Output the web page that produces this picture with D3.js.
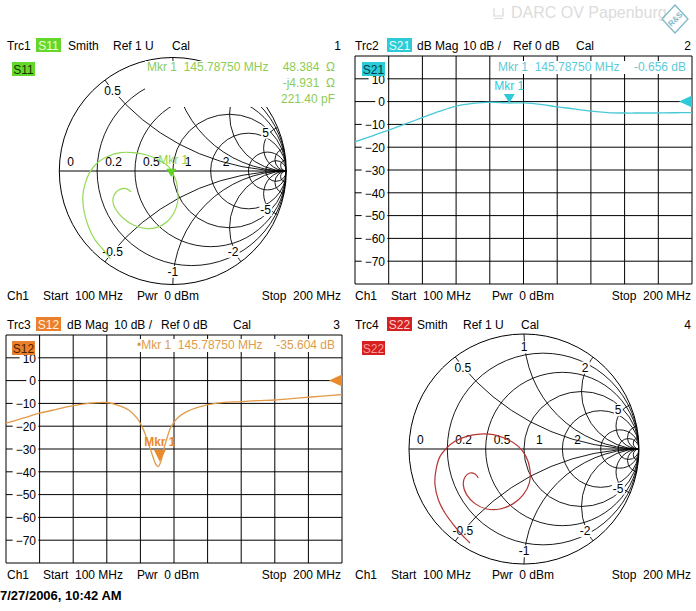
<!DOCTYPE html>
<html>
<head>
<meta charset="utf-8">
<script src="https://cdn.jsdelivr.net/npm/d3@7"></script>
<style>
  body { margin: 0; background: #fff; }
  svg { display: block; font-family: "Liberation Sans", Arial, sans-serif; }
  text { white-space: pre; }
</style>
</head>
<body>
<svg id="chart" width="696" height="611"></svg>
<script>
// sweep settings
const freqStart = 100, freqStop = 200;
const markerFreq = 145.7875;
const dbTop = 20, dbBottom = -80;
const dbTicks = [10, 0, -10, -20, -30, -40, -50, -60, -70];

// Trc2 S21 dB Mag
const s21Freq = [100, 105, 110, 115, 120, 125, 130, 135, 140, 145, 150, 155, 160, 165, 170, 175, 180, 185, 190, 195, 200];
const s21Db = [-17.7, -15.1, -12.5, -9.8, -7.0, -4.3, -2.0, -0.8, -0.2, -0.6, -0.6, -1.2, -2.3, -3.2, -4.2, -4.8, -5.0, -5.0, -5.0, -4.9, -4.8];

// Trc3 S12 dB Mag
const s12Freq = [100, 105, 110, 115, 120, 125, 130, 133, 136.5, 139, 140.5, 141.7, 142.7, 143.7, 144.7, 145.3, 146.1, 146.9, 147.9, 148.9, 149.9, 151.3, 153.8, 157.8, 162.8, 170, 175, 180, 185, 190, 195, 200];
const s12Db = [-18.7, -16.5, -14.3, -12.6, -11.0, -9.9, -9.6, -10.7, -12.9, -16.5, -20.2, -24.6, -28.9, -33.3, -37.0, -37.7, -35.5, -30.4, -25.3, -20.9, -18.4, -16.1, -13.6, -11.4, -9.9, -9.2, -8.8, -8.5, -7.9, -7.3, -6.7, -6.1];

// Trc1 S11 reflection coefficient, 100 -> 200 MHz
const s11Re = [-0.551, -0.610, -0.684, -0.743, -0.781, -0.793, -0.772, -0.728, -0.669, -0.581, -0.463, -0.346, -0.228, -0.125, -0.037, 0.001, 0.031, 0.043, 0.043, 0.007, -0.051, -0.140, -0.243, -0.346, -0.434, -0.499, -0.528, -0.516, -0.478, -0.419, -0.366];
const s11Im = [-0.771, -0.697, -0.609, -0.491, -0.359, -0.226, -0.109, -0.006, 0.068, 0.126, 0.162, 0.162, 0.141, 0.097, 0.038, -0.021, -0.094, -0.168, -0.271, -0.374, -0.447, -0.497, -0.506, -0.476, -0.418, -0.344, -0.271, -0.212, -0.168, -0.153, -0.182];

// Trc4 S22 reflection coefficient, 100 -> 200 MHz
const s22Re = [-0.470, -0.542, -0.614, -0.687, -0.745, -0.774, -0.765, -0.730, -0.672, -0.600, -0.499, -0.383, -0.267, -0.151, -0.049, 0.017, 0.052, 0.046, -0.006, -0.093, -0.209, -0.325, -0.426, -0.499, -0.528, -0.513, -0.470, -0.426, -0.397];
const s22Im = [-0.817, -0.745, -0.658, -0.557, -0.441, -0.310, -0.180, -0.064, 0.009, 0.067, 0.110, 0.130, 0.125, 0.087, 0.023, -0.064, -0.180, -0.296, -0.397, -0.475, -0.522, -0.522, -0.475, -0.397, -0.310, -0.243, -0.209, -0.217, -0.252];

// marker readouts
const s11MarkerOhm = [48.384, -4.931];
const s11MarkerText = ['48.384  \u03A9', '-j4.931  \u03A9', '221.40 pF'];
const s21MarkerDb = -0.656;
const s12MarkerDb = -35.604;

// smith grid
const rCircles = [0.2, 0.5, 1, 2, 5, 10];
const xArcs = [0.5, 1, 2, 5, 10, 20];
const rLabels = [0, 0.2, 0.5, 1, 2];
const xLabels = [0.5, 1, 2, 5, -0.5, -1, -2, -5];

const svg = d3.select('#chart');

function txt(g, x, y, s, o = {}) {
  return g.append('text')
    .attr('x', x).attr('y', y)
    .attr('font-size', o.size || 12)
    .attr('font-weight', o.bold ? 'bold' : null)
    .attr('text-anchor', o.anchor || 'start')
    .attr('fill', o.fill || '#000')
    .text(s);
}

// white box under a text so grid lines stop at it
function backing(g, t, pad = 1) {
  const b = t.node().getBBox();
  g.insert('rect', () => t.node())
    .attr('x', b.x - pad).attr('y', b.y + 1)
    .attr('width', b.width + 2 * pad).attr('height', b.height - 2)
    .attr('fill', '#fff');
}

const fmtFreq = d3.format('.5f');

// ---------- panel chrome ----------
const panels = [
  { ox: 0, oy: 0, trc: 'Trc1', name: 'S11', num: '1', color: '#64d82a', ink: '#eaffd8', tagInk: '#173600',
    badgeX: 36, numX: 341, head: [['Smith', 68], ['Ref 1 U', 113], ['Cal', 172]], pwrX: 137 },
  { ox: 348, oy: 0, trc: 'Trc2', name: 'S21', num: '2', color: '#2ccbd8', ink: '#e6fcff', tagInk: '#003a44',
    badgeX: 387, numX: 691, head: [['dB Mag', 417], ['10 dB /', 463], ['Ref 0 dB', 513], ['Cal', 576]], pwrX: 492 },
  { ox: 0, oy: 279, trc: 'Trc3', name: 'S12', num: '3', color: '#ea802c', ink: '#fff0e0', tagInk: '#4a1e00',
    badgeX: 36, numX: 340, head: [['dB Mag', 67], ['10 dB /', 114], ['Ref 0 dB', 161], ['Cal', 233]], pwrX: 137 },
  { ox: 348, oy: 279, trc: 'Trc4', name: 'S22', num: '4', color: '#d42020', ink: '#ffd0d0', tagInk: '#ff9a9a',
    badgeX: 387, numX: 691, head: [['Smith', 417], ['Ref 1 U', 463], ['Cal', 521]], pwrX: 492 }
];

function chrome(p) {
  const g = svg.append('g');
  const hy = p.oy + 49.5;
  txt(g, p.ox + 7, hy, p.trc);
  g.append('rect').attr('x', p.badgeX).attr('y', p.oy + 38).attr('width', 25).attr('height', 14).attr('fill', p.color);
  txt(g, p.badgeX + 12.5, hy, p.name, { anchor: 'middle', fill: p.ink });
  p.head.forEach(([s, x]) => txt(g, x, hy, s));
  txt(g, p.numX, hy, p.num, { anchor: 'end' });

  const fy = p.oy + 299.5;
  txt(g, p.ox + 7, fy, 'Ch1');
  txt(g, p.ox + 43, fy, `Start  ${freqStart} MHz`);
  txt(g, p.pwrX, fy, 'Pwr  0 dBm');
  txt(g, p.ox + (p.ox ? 343 : 341), fy, `Stop  ${freqStop} MHz`, { anchor: 'end' });
}

function tag(p) {
  const g = svg.append('g');
  const bx = p.ox + 12 + (p.ox ? 2 : 0), by = p.oy + 62;
  g.append('rect').attr('x', bx).attr('y', by).attr('width', 23).attr('height', 14).attr('fill', p.color);
  txt(g, bx + 11.5, by + 11.5, p.name, { anchor: 'middle', fill: p.tagInk });
}

// ---------- smith chart ----------
function smith(p, re, im, traceColor) {
  const g = svg.append('g').attr('transform', `translate(${p.cx},${p.cy})`);
  const sx = d3.scaleLinear([-1, 1], [-p.R, p.R]);
  const sy = d3.scaleLinear([-1, 1], [p.R, -p.R]);
  const clipId = 'clip-' + p.name;
  g.append('clipPath').attr('id', clipId).append('circle').attr('r', p.R);

  const grid = g.append('g').attr('clip-path', `url(#${clipId})`)
    .attr('fill', 'none').attr('stroke', '#000').attr('stroke-width', 0.9);
  grid.selectAll('.rc').data(rCircles).join('circle').attr('class', 'rc')
    .attr('cx', r => sx(r / (1 + r))).attr('cy', 0)
    .attr('r', r => sx(1 / (1 + r)) - sx(0));
  grid.selectAll('.xa').data(xArcs.flatMap(x => [x, -x])).join('circle').attr('class', 'xa')
    .attr('cx', sx(1)).attr('cy', x => sy(1 / x))
    .attr('r', x => Math.abs(sx(1 / x) - sx(0)));
  g.append('circle').attr('r', p.R).attr('fill', 'none').attr('stroke', '#000');
  g.append('line').attr('x1', sx(-1)).attr('x2', sx(1)).attr('stroke', '#000');

  rLabels.forEach(r => {
    const gx = (r - 1) / (r + 1);
    txt(g, sx(gx) + (r >= 1 ? 12 : 8), -5, String(r));
  });
  // labels under the marker readout box are not shown
  xLabels.filter(x => !(p.hidden || []).includes(x)).forEach(x => {
    const d = x * x + 1;
    const ang = Math.atan2(2 * x / d, (x * x - 1) / d);
    const rr = p.R - 13;
    const t = txt(g, rr * Math.cos(ang), -rr * Math.sin(ang), String(x), { anchor: 'middle' })
      .attr('dy', '0.36em');
    backing(g, t);
  });

  const line = d3.line()
    .x(i => sx(re[i])).y(i => sy(im[i]))
    .curve(d3.curveCatmullRom.alpha(0.5));
  g.append('path').attr('d', line(d3.range(re.length)))
    .attr('fill', 'none').attr('stroke', traceColor).attr('stroke-width', 1.2);
  return { g, sx, sy };
}

// ---------- dB magnitude chart ----------
function magPanel(p, freq, db, traceColor, markerDb, markColor, boldLabel) {
  const x = d3.scaleLinear([freqStart, freqStop], [p.left, p.left + p.w]);
  const y = d3.scaleLinear([dbTop, dbBottom], [p.top, p.top + p.h]);
  const g = svg.append('g');

  g.append('g').selectAll('line').data(x.ticks(10)).join('line')
    .attr('x1', d => x(d)).attr('x2', d => x(d))
    .attr('y1', p.top).attr('y2', p.top + p.h).attr('stroke', '#000');
  g.append('g').selectAll('line').data(y.ticks(10)).join('line')
    .attr('x1', p.left).attr('x2', p.left + p.w)
    .attr('y1', d => y(d)).attr('y2', d => y(d)).attr('stroke', '#000');

  const ax = g.append('g').attr('transform', `translate(${p.left + 30},0)`)
    .call(d3.axisLeft(y).tickValues(dbTicks).tickSize(0).tickPadding(0).tickFormat(d3.format('d')));
  ax.select('.domain').remove();
  ax.attr('font-family', null).attr('font-size', 12);
  ax.selectAll('.tick').each(function () {
    const tk = d3.select(this);
    const t = tk.select('text').attr('fill', '#000').attr('dy', '0.36em');
    const b = t.node().getBBox();
    tk.insert('rect', 'text').attr('x', b.x - 3).attr('y', b.y + 1)
      .attr('width', b.width + 5).attr('height', b.height - 2).attr('fill', '#fff');
  });

  const line = d3.line()
    .x(i => x(freq[i])).y(i => y(db[i]))
    .curve(d3.curveCatmullRom.alpha(0.5));
  g.append('path').attr('d', line(d3.range(freq.length)))
    .attr('fill', 'none').attr('stroke', traceColor).attr('stroke-width', 1.3);

  // reference level arrow
  const xr = x(freqStop), y0 = y(0);
  g.append('path').attr('d', `M${xr - 13},${y0} L${xr},${y0 - 6} L${xr},${y0 + 6} Z`).attr('fill', markColor);

  // marker 1
  const mx = x(markerFreq), my = y(markerDb);
  const s = boldLabel ? 6 : 5.5, h = boldLabel ? 12 : 9;
  g.append('path').attr('d', `M${mx - s},${my - h} L${mx + s},${my - h} L${mx},${my} Z`).attr('fill', markColor);
  txt(g, mx, my - h - 4, 'Mkr 1', { anchor: 'middle', fill: markColor, bold: boldLabel });
  return { g, x, y };
}

// ---------- draw ----------
panels.forEach(chrome);

// Trc1 S11
const c1 = smith({ name: 'S11', cx: 172.8, cy: 171, R: 113.5, hidden: [1] }, s11Re, s11Im, '#92da55');
{
  const z = { re: s11MarkerOhm[0] / 50, im: s11MarkerOhm[1] / 50 };
  const nr = z.re - 1, ni = z.im, dr = z.re + 1, di = z.im;
  const den = dr * dr + di * di;
  const gr = (nr * dr + ni * di) / den, gi = (ni * dr - nr * di) / den;
  const mx = c1.sx(gr), my = c1.sy(gi);
  c1.g.append('path').attr('d', `M${mx - 5},${my - 8} L${mx + 5},${my - 8} L${mx},${my} Z`).attr('fill', '#5fd41f');
  txt(c1.g, mx + 2, my - 13, 'Mkr 1', { anchor: 'middle', fill: '#8fd64c' });

  const g = svg.append('g');
  g.append('rect').attr('x', 145).attr('y', 61).attr('width', 198).attr('height', 46).attr('fill', '#fff');
  txt(g, 147, 71, `Mkr 1  ${fmtFreq(markerFreq)} MHz`, { fill: '#8ccc55' });
  s11MarkerText.forEach((s, i) => txt(g, 335, 71 + i * 16, s, { anchor: 'end', fill: '#8ccc55' }));
}

// Trc2 S21
magPanel({ left: 355, top: 56, w: 337, h: 228 }, s21Freq, s21Db, '#47c9d5', s21MarkerDb, '#2fcad8', false);
{
  const g = svg.append('g');
  const t1 = txt(g, 498, 71, `Mkr 1  ${fmtFreq(markerFreq)} MHz`, { fill: '#5ccbd8' });
  const t2 = txt(g, 686, 71, `${s21MarkerDb.toFixed(3)} dB`, { anchor: 'end', fill: '#5ccbd8' });
  const b1 = t1.node().getBBox(), b2 = t2.node().getBBox();
  g.insert('rect', 'text').attr('x', b1.x - 2).attr('y', b1.y + 1)
    .attr('width', b2.x + b2.width - b1.x + 4).attr('height', b1.height - 1).attr('fill', '#fff');
}

// Trc3 S12
magPanel({ left: 6, top: 335, w: 336, h: 228 }, s12Freq, s12Db, '#e39a48', s12MarkerDb, '#ea8a2c', true);
{
  const g = svg.append('g');
  const t1 = txt(g, 137, 349, `\u2022Mkr 1  ${fmtFreq(markerFreq)} MHz`, { fill: '#de9c4a' });
  const t2 = txt(g, 335, 349, `${s12MarkerDb.toFixed(3)} dB`, { anchor: 'end', fill: '#de9c4a' });
  const b1 = t1.node().getBBox(), b2 = t2.node().getBBox();
  g.insert('rect', 'text').attr('x', b1.x - 2).attr('y', b1.y + 1)
    .attr('width', b2.x + b2.width - b1.x + 4).attr('height', b1.height - 1).attr('fill', '#fff');
}

// Trc4 S22
smith({ name: 'S22', cx: 524, cy: 449, R: 115 }, s22Re, s22Im, '#b53535');

panels.forEach(tag);

// date stamp
txt(svg, 0, 600, '7/27/2006, 10:42 AM', { bold: true, size: 13 });

// watermark
{
  const g = svg.append('g');
  g.append('path').attr('d', 'M494,8 L494,16 L503,16 L503,8 M494,18.5 L503,18.5')
    .attr('fill', 'none').attr('stroke', '#d8d8d8').attr('stroke-width', 1.2);
  txt(g, 511, 18, 'DARC OV Papenburg', { size: 16, fill: '#dcdcdc' });
  g.append('path').attr('d', 'M675,5 L688,19 L675,33 L662,19 Z')
    .attr('fill', 'rgba(255,255,255,0.6)').attr('stroke', '#7fb8c8').attr('stroke-width', 1.3);
  txt(g, 675, 22, 'R&S', { size: 8, bold: true, anchor: 'middle', fill: '#7fb8c8' })
    .attr('transform', 'rotate(-45 675 19)');
}
</script>
</body>
</html>
